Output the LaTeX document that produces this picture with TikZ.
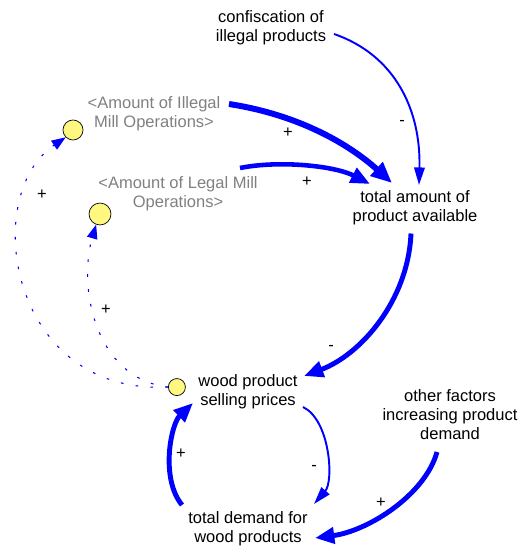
\documentclass[tikz,border=0pt]{standalone}
\usepackage{fontspec}
\setmainfont{Liberation Sans}
\usetikzlibrary{arrows.meta,positioning}
\tikzset{
    %Define standard arrow tip
    >={Triangle[length=11pt,width=9pt]},
    %Define style for variables
    var/.style={
           align=center,
           inner sep=0pt,
           font=\fontsize{9.4}{10.8}\selectfont},
    shadow/.style={
           var,
           text=black!50},
    aux/.style={
           circle,
           draw=black, thin,
           inner sep=0pt,
           fill=yellow!50},
    sign/.style={
           inner sep=0pt,
           font=\fontsize{9.4}{10.8}\selectfont},
    % Define link styles
    link/.style={
           -{Triangle[length=10pt,width=6pt]},
           draw=blue,
           line width=1.1pt},
    heavy/.style={
           ->,
           draw=blue,
           line width=2.8pt},
    info/.style={
           -{Triangle[length=8pt,width=6pt]},
           draw=blue,
           line width=0.6pt,
           dash pattern=on 1.5pt off 7pt}
}
\begin{document}
\begin{tikzpicture}[x=0.02cm, y=-0.02cm]
\useasboundingbox (0,0) rectangle (522,547);
% variables
\node[var] (conf) at (271,28) {confiscation of\\illegal products};
\node[shadow] (illegal) at (154,114) {<Amount of Illegal\\Mill Operations>};
\node[shadow] (legal) at (178,193.5) {<Amount of Legal Mill\\Operations>};
\node[var] (total) at (415,207.5) {total amount of\\product available};
\node[var] (prices) at (248,392) {wood product\\selling prices};
\node[var] (other) at (450,415) {other factors\\increasing product\\demand};
\node[var] (demand) at (248,529) {total demand for\\wood products};
% shadow circles
\node[aux, minimum size=11.4pt] (c1) at (73,130) {};
\node[aux, minimum size=12.5pt] (c2) at (100,214) {};
\node[aux, minimum size=9.7pt, left=7pt of prices, yshift=2.8pt] (c3) {};
% links
\draw[link] ([shift={(63,6)}]conf.center) .. controls +(61,21) and +(2,-75) .. ([shift={(4,-22.5)}]total.center);
\draw[heavy, line width=3.4pt, >={Triangle[length=12pt,width=10pt]}] ([shift={(75,-10)}]illegal.center) .. controls +(71,11) and +(-42,-38) .. ([shift={(-23,-24.5)}]total.center);
\draw[heavy, line width=2.6pt] ([shift={(62,-25.5)}]legal.center) .. controls +(40,-8) and +(-35,-18) .. ([shift={(-45,-23.5)}]total.center);
\draw[heavy] ([shift={(-4,26)}]total.center) .. controls +(-3,68) and +(56,-21) .. ([shift={(56,-16)}]prices.center);
\draw[link] ([shift={(55,15)}]prices.center) .. controls +(27,13) and +(20,-23) .. ([shift={(66,-25)}]demand.center);
\draw[heavy] ([shift={(-66,-24)}]demand.center) .. controls +(-22,-27) and +(-22,21) .. ([shift={(-55,11)}]prices.center);
\draw[heavy] ([shift={(-13,37)}]other.center) .. controls +(-12,43) and +(53,-7) .. ([shift={(67,9)}]demand.center);
\draw[info] (c3.west) .. controls +(-159,8) and +(-86,58) .. (c1.south west);
\draw[info] (c3.west) .. controls +(-74,-9) and +(-18,61) .. (c2.250);
% polarities
\node[sign] (s1) at (402,123) {-};
\node[sign] (s2) at (288,133) {+};
\node[sign] (s3) at (307,182) {+};
\node[sign] (s4) at (331,348) {-};
\node[sign] (s5) at (314,468) {-};
\node[sign] (s6) at (181,454) {+};
\node[sign] (s7) at (381,503) {+};
\node[sign] (s8) at (42,195) {+};
\node[sign] (s9) at (106,310) {+};
\end{tikzpicture}
\end{document}
